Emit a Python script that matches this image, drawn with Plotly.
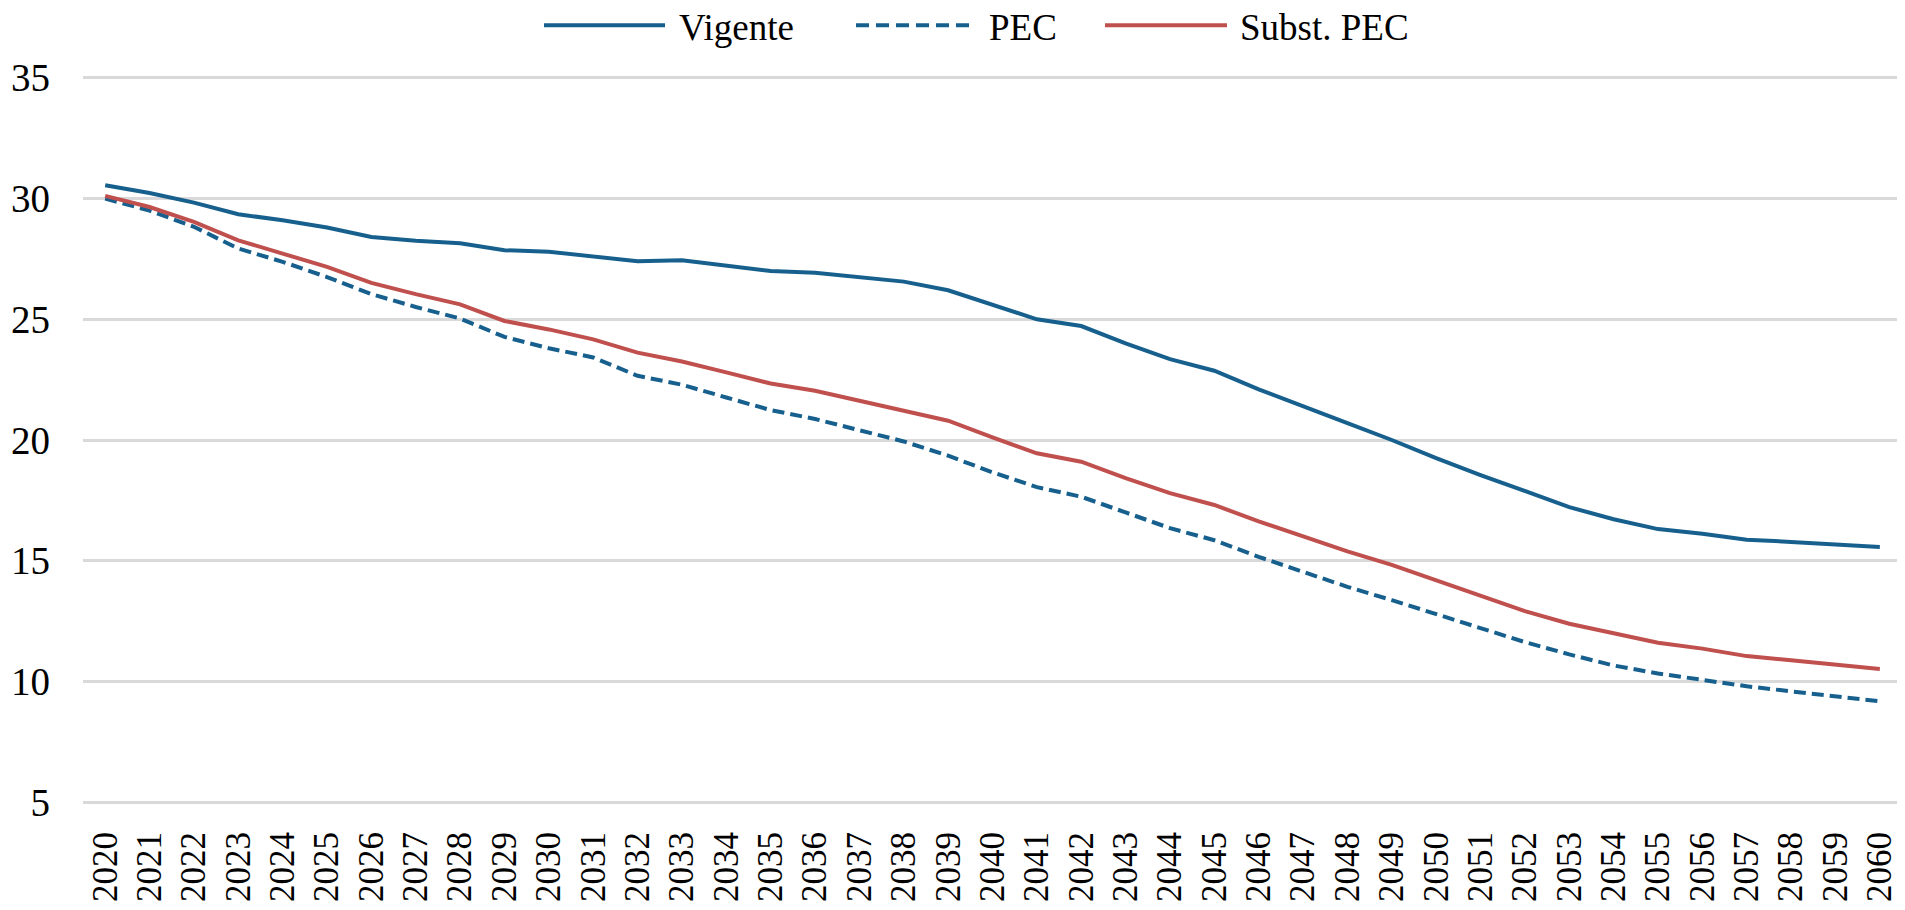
import plotly.graph_objects as go

years = [str(y) for y in range(2020, 2061)]

vigente = [30.55, 30.23, 29.83, 29.35, 29.10, 28.80, 28.41, 28.25, 28.15, 27.86,
           27.80, 27.62, 27.40, 27.44, 27.22, 27.00, 26.93, 26.75, 26.56, 26.20,
           25.62, 25.00, 24.72, 24.00, 23.35, 22.87, 22.10, 21.38, 20.70, 20.00,
           19.25, 18.55, 17.87, 17.22, 16.72, 16.31, 16.12, 15.87, 15.78, 15.66,
           15.57]

pec = [30.00, 29.50, 28.83, 27.93, 27.38, 26.75, 26.04, 25.51, 25.03, 24.27,
       23.80, 23.42, 22.66, 22.29, 21.76, 21.24, 20.87, 20.39, 19.94, 19.35,
       18.66, 18.05, 17.65, 17.00, 16.35, 15.85, 15.16, 14.54, 13.92, 13.37,
       12.80, 12.20, 11.63, 11.12, 10.66, 10.33, 10.05, 9.80, 9.59, 9.38,
       9.18]

subst_pec = [30.11, 29.65, 29.03, 28.27, 27.72, 27.17, 26.51, 26.04, 25.62, 24.93,
             24.58, 24.17, 23.62, 23.25, 22.80, 22.34, 22.04, 21.63, 21.24, 20.80,
             20.11, 19.45, 19.10, 18.42, 17.80, 17.31, 16.63, 16.01, 15.39, 14.83,
             14.20, 13.55, 12.91, 12.39, 11.98, 11.60, 11.36, 11.05, 10.88, 10.70,
             10.52]

y_ticks = [5, 10, 15, 20, 25, 30, 35]
series_names = ["Vigente", "PEC", "Subst. PEC"]

BLUE = "#17608E"
RED = "#C0504D"
FONT = "Liberation Serif, Times New Roman, serif"

# page body has an 8px margin; lay out in page pixels and shift
OFF = 8
W, H = 1905 - OFF, 910 - OFF
Y_LO, Y_HI = 4.8, 35.2
PX_PER_UNIT = (802 - 77.6) / 30.0
L = 83 - OFF
R = 3
T = 77.6 - (Y_HI - 35) * PX_PER_UNIT - OFF
B = 910 - (802 + (5 - Y_LO) * PX_PER_UNIT)
pw, ph = W - L - R, H - T - B

fig = go.Figure()
fig.add_trace(go.Scatter(x=years, y=vigente, name=series_names[0], mode="lines",
                         line=dict(color=BLUE, width=4)))
fig.add_trace(go.Scatter(x=years, y=pec, name=series_names[1], mode="lines",
                         line=dict(color=BLUE, width=4, dash="12px,6px")))
fig.add_trace(go.Scatter(x=years, y=subst_pec, name=series_names[2], mode="lines",
                         line=dict(color=RED, width=4)))


def px_x(p):
    return (p - OFF - L) / pw


def px_y(p):
    return (H - B - (p - OFF)) / ph


legend_items = [
    (series_names[0], BLUE, "solid", 544, 665, 677),
    (series_names[1], BLUE, "13px,7px", 856, 975, 987),
    (series_names[2], RED, "solid", 1105, 1227, 1238),
]
shapes = []
annotations = []
leg_y = 25
for name, col, dash, x0, x1, tx in legend_items:
    shapes.append(dict(type="line", xref="paper", yref="paper",
                       x0=px_x(x0), x1=px_x(x1), y0=px_y(leg_y), y1=px_y(leg_y),
                       line=dict(color=col, width=4, dash=dash)))
    annotations.append(dict(text=name, xref="paper", yref="paper",
                            x=px_x(tx), y=px_y(leg_y + 2), xanchor="left", yanchor="middle",
                            showarrow=False, font=dict(family=FONT, size=37, color="#000000")))

fig.update_layout(
    width=W, height=H,
    margin=dict(l=L, r=R, t=T, b=B, pad=0),
    paper_bgcolor="white", plot_bgcolor="white",
    showlegend=False,
    shapes=shapes,
    annotations=annotations,
    font=dict(family=FONT, color="#000000"),
)
fig.update_xaxes(
    type="category", range=[-0.5, 40.5],
    tickangle=-90, tickfont=dict(family=FONT, size=35, color="#000000"),
    showgrid=False, zeroline=False, showline=False,
    ticks="", ticklabelstandoff=17, automargin=False,
)
fig.update_yaxes(
    range=[Y_LO, Y_HI], tickvals=y_ticks,
    tickfont=dict(family=FONT, size=39, color="#000000"),
    showgrid=True, gridcolor="#D9D9D9", gridwidth=2.5,
    zeroline=False, showline=False, ticks="", ticklabelstandoff=32, automargin=False,
)

fig.write_html("out.html", config={"displayModeBar": False})
